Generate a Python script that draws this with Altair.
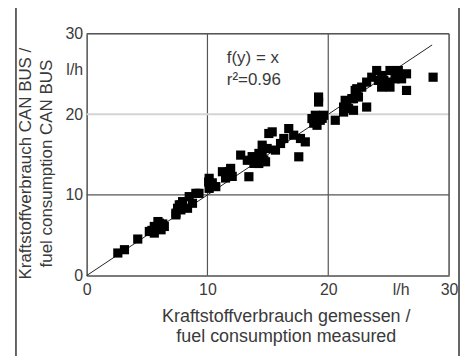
import altair as alt
import pandas as pd

xs = [2.58, 3.13, 4.23, 5.19, 5.6, 6.02, 6.16, 5.6, 6.43, 5.9, 6.3, 5.4,
      7.39, 7.8, 7.67, 8.35, 8.76,
      7.39, 7.53, 7.8, 7.94, 8.49, 9.04, 10.14, 10.69, 10.14, 11.24, 11.92,
      12.75, 13.43, 13.85, 14.26, 14.53, 14.94, 15.08, 13.85, 14.67, 15.63,
      9.3, 10.4, 11.5, 12.05, 11.8, 13.3, 13.7, 14.1, 14.25, 10.1,
      19.2, 19.2, 18.93, 19.34, 19.07, 18.65, 19.62, 20.58, 21.27, 21.54,
      22.09, 22.09, 22.36, 15.36, 16.73, 16.32, 17.14, 17.7, 18.1, 17.56,
      14.53, 14.81, 16.05, 18.8, 19.5,
      28.68, 26.48, 23.18, 24.01, 25.11, 25.8, 26.48, 26.07, 25.53, 24.83,
      24.42, 25.11, 23.6, 23.18, 22.77, 22.23, 21.95, 21.4, 21.27, 21.68,
      22.5, 24.42, 24.15, 25.7, 24.6]
ys = [2.8, 3.21, 4.53, 5.47, 6.09, 6.5, 5.68, 5.27, 6.09, 6.7, 6.4, 5.6,
      7.53, 8.15, 8.77, 8.35, 8.97,
      7.74, 8.35, 8.77, 9.17, 9.79, 10.2, 10.82, 11.03, 12.06, 12.88, 13.29,
      14.94, 12.26, 14.53, 15.15, 16.17, 15.76, 17.62, 13.91, 14.32, 15.56,
      10.2, 11.5, 12.1, 12.3, 12.9, 14.3, 14.75, 14.3, 13.9, 11.6,
      22.14, 21.52, 19.88, 19.26, 18.64, 19.47, 19.88, 19.26, 20.28, 21.11,
      21.94, 20.5, 23.17, 17.82, 18.23, 17.0, 17.41, 17.0, 16.58, 14.73,
      14.94, 14.11, 16.38, 18.9, 19.5,
      24.6, 22.96, 20.9, 25.43, 25.43, 25.43, 25.02, 24.4, 24.4, 23.99,
      23.37, 23.37, 24.6, 23.99, 23.37, 22.96, 21.94, 21.73, 20.9, 20.7,
      22.14, 24.81, 24.2, 24.9, 24.2]

fit_x = [0, 28.6]
fit_y = [0, 28.6]

x_ticks = [0, 10, 20, 26, 30]
y_ticks = [0, 10, 20, 25.6, 30]
unit_label = "l/h"

grid_x = [10, 20]
grid_y_dark = [10]
grid_y_light = [20]
border = [30]

annot_lines = ["f(y) = x", "r²=0.96"]
annot_x = [11.6, 11.6]
annot_y = [27.0, 24.2]

x_title = ["Kraftstoffverbrauch gemessen /", "fuel consumption measured"]
y_title = ["Kraftstoffverbrauch CAN BUS /", "fuel consumption CAN BUS"]

FONT = "Liberation Sans"
TXT = "#3a3a3a"
W, H = 364, 243

pts = pd.DataFrame({"x": xs, "y": ys})
fit = pd.DataFrame({"x": fit_x, "y": fit_y})

xscale = alt.Scale(domain=[0, 30], nice=False)
yscale = alt.Scale(domain=[0, 30], nice=False)

xaxis = alt.Axis(values=x_ticks, labelExpr=f"datum.value == 26 ? '{unit_label}' : datum.label",
                 ticks=False, grid=False, domainColor="#555", domainWidth=1.5,
                 labelFont=FONT, labelFontSize=16, labelColor=TXT, labelPadding=6,
                 title=x_title, titleFont=FONT, titleFontSize=18, titleFontWeight="normal",
                 titleColor=TXT, titleLineHeight=20, titleX=200, titleY=32,
                 titleAlign="center", titleBaseline="top", labelFlush=False)
yaxis = alt.Axis(values=y_ticks, labelExpr=f"datum.value == 25.6 ? '{unit_label}' : datum.label",
                 ticks=False, grid=False, domainColor="#555", domainWidth=1.5,
                 labelFont=FONT, labelFontSize=16, labelColor=TXT, labelPadding=4,
                 title=y_title, titleFont=FONT, titleFontSize=17, titleFontWeight="normal",
                 titleColor=TXT, titleLineHeight=21, titleX=-69, titleY=130,
                 titleAngle=-90, titleAlign="center", titleBaseline="top", labelFlush=False)

base_pts = alt.Chart(pts).mark_point(shape="square", filled=True, size=85, color="black",
                                     opacity=1).encode(
    x=alt.X("x:Q", scale=xscale, axis=xaxis),
    y=alt.Y("y:Q", scale=yscale, axis=yaxis),
)

gx = alt.Chart(pd.DataFrame({"v": grid_x})).mark_rule(color="#555", strokeWidth=1.2).encode(
    x=alt.X("v:Q", scale=xscale))
gyd = alt.Chart(pd.DataFrame({"v": grid_y_dark})).mark_rule(color="#555", strokeWidth=1.2).encode(
    y=alt.Y("v:Q", scale=yscale))
gyl = alt.Chart(pd.DataFrame({"v": grid_y_light})).mark_rule(color="#d4d4d4", strokeWidth=2).encode(
    y=alt.Y("v:Q", scale=yscale))
bx = alt.Chart(pd.DataFrame({"v": border})).mark_rule(color="#555", strokeWidth=1.5).encode(
    x=alt.X("v:Q", scale=xscale))
by = alt.Chart(pd.DataFrame({"v": border})).mark_rule(color="#555", strokeWidth=1.5).encode(
    y=alt.Y("v:Q", scale=yscale))

line = alt.Chart(fit).mark_line(color="#222", strokeWidth=1).encode(
    x=alt.X("x:Q", scale=xscale), y=alt.Y("y:Q", scale=yscale))

annot = alt.Chart(pd.DataFrame({"t": annot_lines, "x": annot_x, "y": annot_y})).mark_text(
    font=FONT, fontSize=17, color=TXT, align="left", baseline="middle").encode(
    x=alt.X("x:Q", scale=xscale), y=alt.Y("y:Q", scale=yscale), text="t:N")

# outer frame (decoration)
frame_left = alt.Chart(pd.DataFrame({"a": [0]})).mark_rule(color="#333", strokeWidth=1.5).encode(
    x=alt.value(-71), y=alt.value(-27), y2=alt.value(340))
frame_top = alt.Chart(pd.DataFrame({"a": [0]})).mark_rule(color="#333", strokeWidth=1.5).encode(
    x=alt.value(-71), x2=alt.value(374), y=alt.value(-27))
frame_right = alt.Chart(pd.DataFrame({"a": [0]})).mark_rule(color="#333", strokeWidth=1.5).encode(
    x=alt.value(374), y=alt.value(-27), y2=alt.value(340))

chart = alt.layer(gx, gyd, gyl, bx, by, line, base_pts, annot,
                  frame_left, frame_top, frame_right).properties(
    width=W, height=H,
    autosize=alt.AutoSizeParams(type="none"),
    padding={"left": 79, "top": 25, "right": 12, "bottom": 80},
).configure_view(stroke=None).configure(background="white")

chart.save("out.html", embed_options={"renderer": "svg", "actions": False})
